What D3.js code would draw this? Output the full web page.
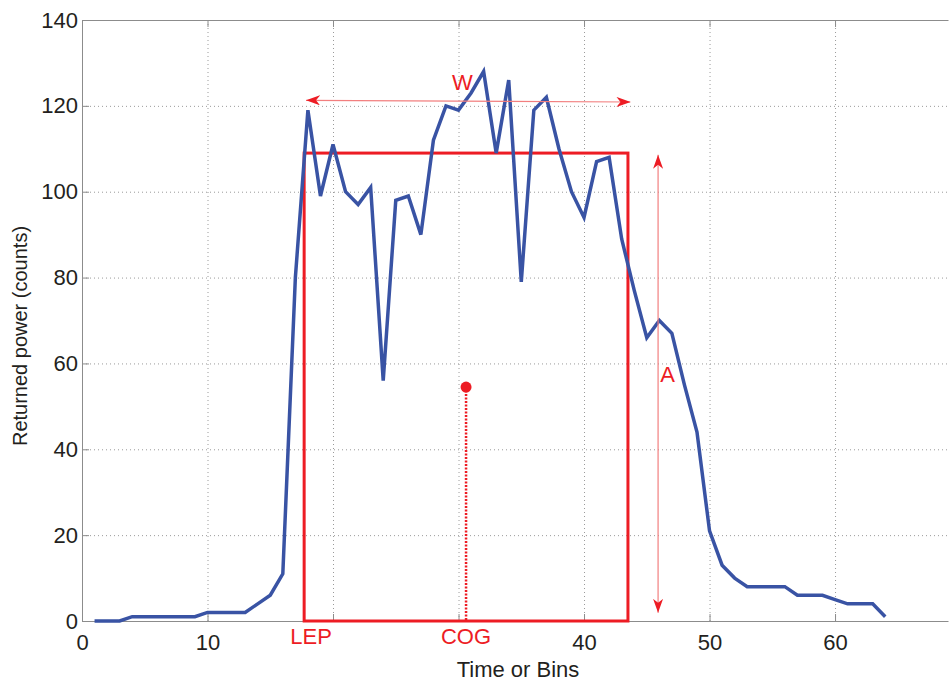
<!DOCTYPE html>
<html lang="en">
<head>
<meta charset="UTF-8">
<title>Returned power waveform</title>
<script src="https://d3js.org/d3.v7.min.js"></script>
<style>
  body { margin: 0; background: #fff; }
  text { font-family: "Liberation Sans", Arial, Helvetica, sans-serif; fill: #231f20; }
  .grid line { stroke: #9a9a9a; stroke-dasharray: 1,3; }
  .grid path { display: none; }
  .axis path, .axis line { stroke: #8c8c8c; }
  .red { fill: #ed1c24; }
</style>
</head>
<body>
<div id="chart"></div>
<script>
// waveform samples, one per bin
const bins = d3.range(1, 65);
const power = [0, 0, 0, 1, 1, 1, 1, 1, 1, 2,
               2, 2, 2, 4, 6, 11, 80, 119, 99, 111,
               100, 97, 101, 56, 98, 99, 90, 112, 120, 119,
               123, 128, 109, 126, 79, 119, 122, 110, 100, 94,
               107, 108, 89, 77, 66, 70, 67, 55, 44, 21,
               13, 10, 8, 8, 8, 8, 6, 6, 6, 5,
               4, 4, 4, 1];

const xTicks = [0, 10, 20, 30, 40, 50, 60];
const yTicks = [0, 20, 40, 60, 80, 100, 120, 140];
const hiddenXLabels = [20, 30];   // replaced by LEP / COG

// retracker annotations (data units)
const lep = 17.7, rightEdge = 43.5, boxHeight = 109;
const cog = [30.6, 54.5];
const widthArrow = [[17.85, 121.3], [43.7, 120.9]];
const ampArrow = [[45.9, 1.9], [45.9, 108.6]];

const W = 949, H = 681;
const margin = {top: 20, right: 1, bottom: 60, left: 82};

const svg = d3.select("#chart").append("svg")
    .attr("width", W).attr("height", H);

const x = d3.scaleLinear().domain([0, 69]).range([margin.left, W - margin.right]);
const y = d3.scaleLinear().domain([0, 140]).range([H - margin.bottom, margin.top]);

// grid
svg.append("g").attr("class", "grid")
    .attr("transform", `translate(0,${y(0)})`)
    .call(d3.axisBottom(x).tickValues(xTicks.filter(d => d > 0)).tickSize(-(y(0) - y(140))).tickFormat(""));
svg.append("g").attr("class", "grid")
    .attr("transform", `translate(${x(0)},0)`)
    .call(d3.axisLeft(y).tickValues(yTicks.filter(d => d > 0 && d < 140)).tickSize(-(x(69) - x(0))).tickFormat(""));

// axes with inward ticks
const xAxis = svg.append("g").attr("class", "axis")
    .attr("transform", `translate(0,${y(0)})`)
    .call(d3.axisBottom(x).tickValues(xTicks).tickSizeInner(-7).tickSizeOuter(0)
        .tickPadding(13).tickFormat(d => hiddenXLabels.includes(d) ? "" : d));
xAxis.selectAll("text").style("font-size", "22px");

svg.append("g").attr("class", "axis")
    .attr("transform", `translate(0,${y(140)})`)
    .call(d3.axisBottom(x).tickValues(xTicks).tickSizeInner(7).tickSizeOuter(0).tickFormat(""));

const yAxis = svg.append("g").attr("class", "axis")
    .attr("transform", `translate(${x(0)},0)`)
    .call(d3.axisLeft(y).tickValues(yTicks).tickSizeInner(-7).tickSizeOuter(0).tickPadding(4));
yAxis.selectAll("text").style("font-size", "22px");
svg.selectAll(".axis .domain").attr("stroke", "#8c8c8c");

// red box: LEP to trailing edge, height = amplitude
svg.append("rect")
    .attr("x", x(lep)).attr("y", y(boxHeight))
    .attr("width", x(rightEdge) - x(lep)).attr("height", y(0) - y(boxHeight))
    .attr("fill", "none").attr("stroke", "#ed1c24").attr("stroke-width", 3);

// waveform
const line = d3.line().x((d, i) => x(bins[i])).y(d => y(d));
svg.append("path").datum(power)
    .attr("d", line)
    .attr("fill", "none")
    .attr("stroke", "#3953a4")
    .attr("stroke-width", 3.5)
    .attr("stroke-linejoin", "miter");

// arrow heads
const defs = svg.append("defs");
["start", "end"].forEach(k => {
  defs.append("marker")
      .attr("id", "arrow-" + k)
      .attr("viewBox", "0 0 14 10")
      .attr("refX", k === "end" ? 14 : 0).attr("refY", 5)
      .attr("markerWidth", 14).attr("markerHeight", 10)
      .attr("markerUnits", "userSpaceOnUse")
      .attr("orient", "auto")
    .append("path")
      .attr("d", k === "end" ? "M0,0 L14,5 L0,10 L4,5 Z" : "M14,0 L0,5 L14,10 L10,5 Z")
      .attr("fill", "#ed1c24");
});

const arrowLine = d3.line().x(d => x(d[0])).y(d => y(d[1]));
[widthArrow, ampArrow].forEach(pts => {
  svg.append("path")
      .attr("d", arrowLine(pts))
      .attr("stroke", "#f27f7f").attr("stroke-width", 1.2).attr("fill", "none")
      .attr("marker-start", "url(#arrow-start)")
      .attr("marker-end", "url(#arrow-end)");
});

svg.append("text").attr("class", "red")
    .attr("x", x(30.3)).attr("y", y(123.7))
    .attr("text-anchor", "middle").style("font-size", "22px").text("W");
svg.append("text").attr("class", "red")
    .attr("x", x(46.65)).attr("y", y(55.7))
    .attr("text-anchor", "middle").style("font-size", "22px").text("A");

// centre of gravity
svg.append("line")
    .attr("x1", x(cog[0])).attr("x2", x(cog[0]))
    .attr("y1", y(cog[1])).attr("y2", y(0))
    .attr("stroke", "#ed1c24").attr("stroke-width", 2.5).attr("stroke-dasharray", "2,1.5");
svg.append("circle")
    .attr("cx", x(cog[0])).attr("cy", y(cog[1])).attr("r", 5.5)
    .attr("fill", "#ed1c24");

svg.append("text").attr("class", "red")
    .attr("x", x(18.25)).attr("y", 644)
    .attr("text-anchor", "middle").style("font-size", "22px").text("LEP");
svg.append("text").attr("class", "red")
    .attr("x", x(cog[0])).attr("y", 644)
    .attr("text-anchor", "middle").style("font-size", "22px").text("COG");

// axis titles
svg.append("text")
    .attr("x", 518).attr("y", 677)
    .attr("text-anchor", "middle").style("font-size", "22px")
    .text("Time or Bins");
svg.append("text")
    .attr("transform", "translate(27,336) rotate(-90)")
    .attr("text-anchor", "middle").style("font-size", "20px")
    .text("Returned power (counts)");
</script>
</body>
</html>
